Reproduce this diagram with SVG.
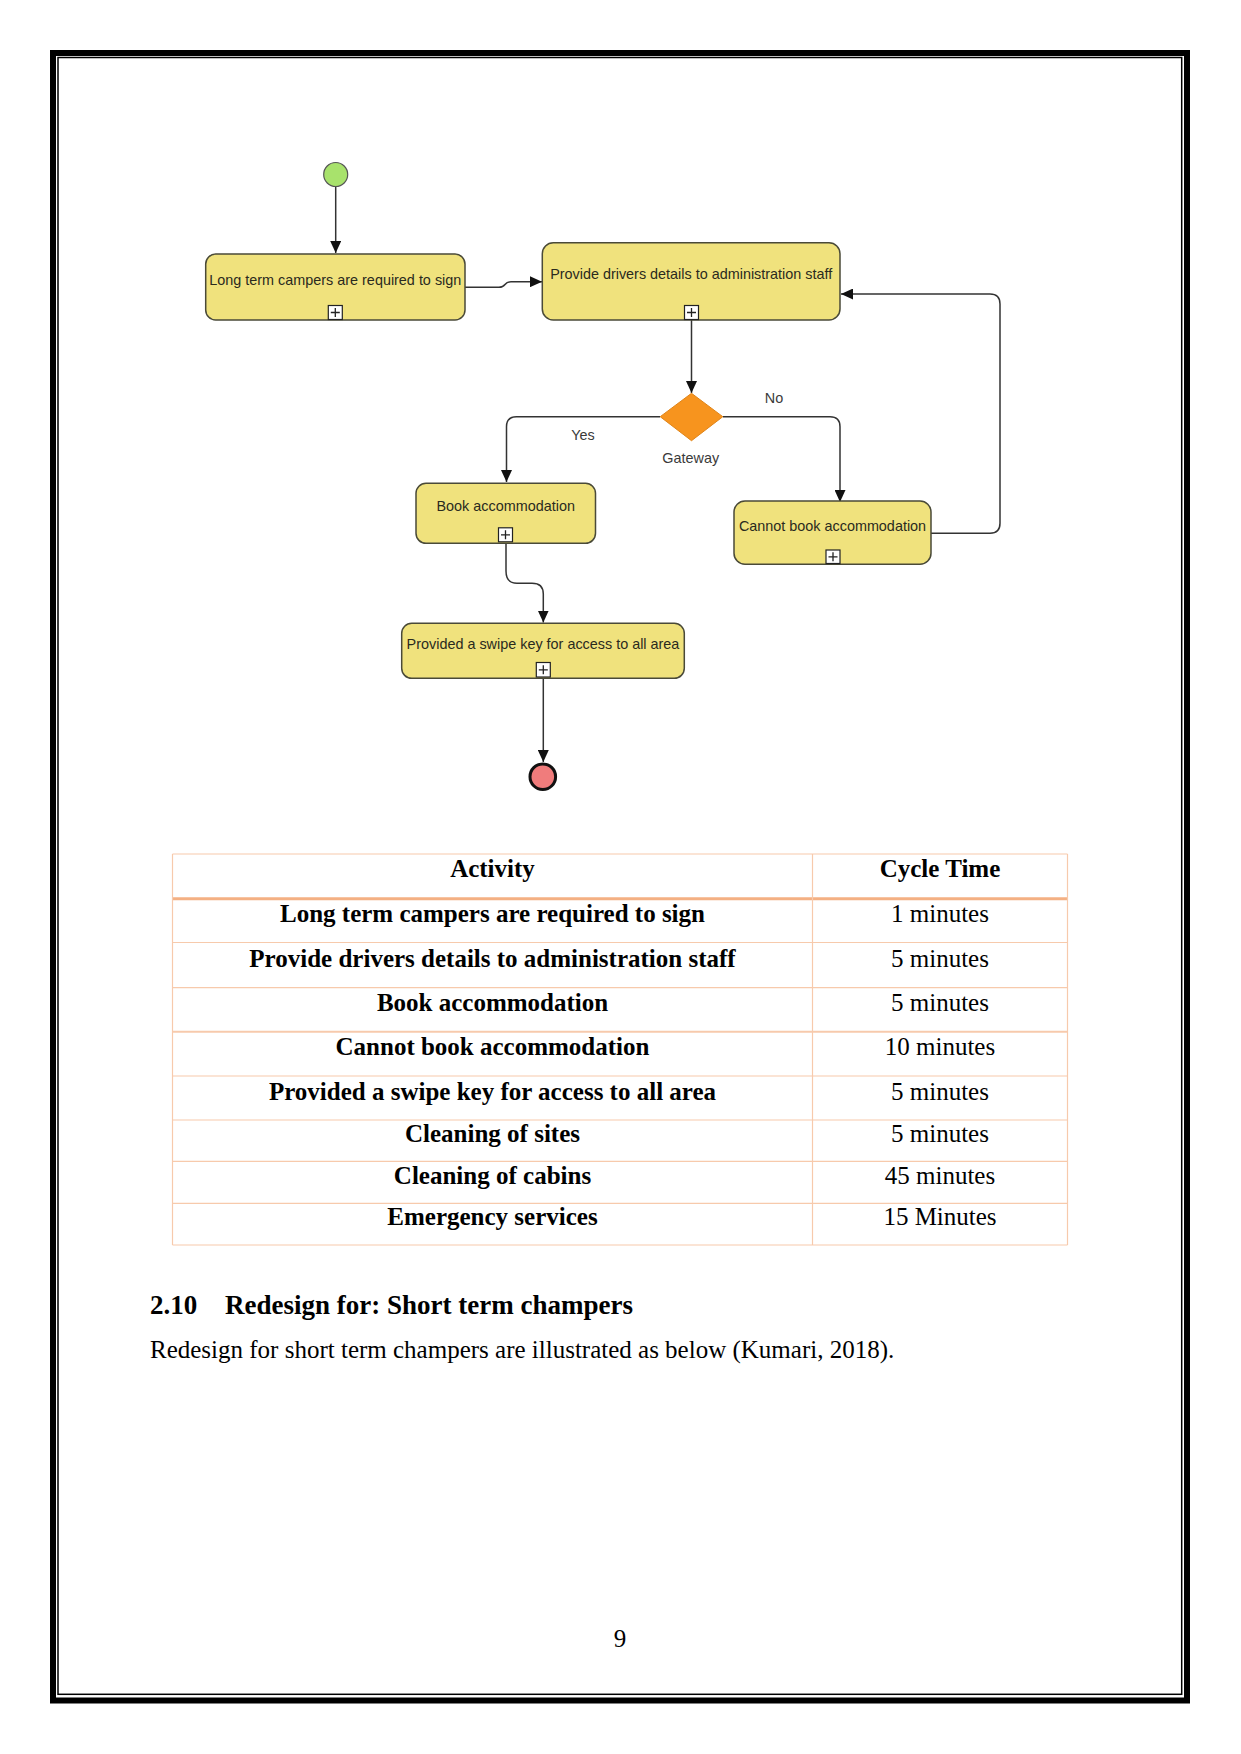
<svg xmlns="http://www.w3.org/2000/svg" width="1241" height="1754" viewBox="0 0 1241 1754">
<defs>
<marker id="arr" markerUnits="userSpaceOnUse" markerWidth="12" markerHeight="11" refX="12" refY="5.5" orient="auto">
<path d="M0,0 L12,5.5 L0,11 z" fill="#111"/>
</marker>
<style>
.task{fill:#F0E27D;stroke:#4a4a38;stroke-width:1.5}
.tl{font-family:"Liberation Sans",Arial,sans-serif;font-size:14.4px;fill:#2a2a1e;text-anchor:middle}
.lbl{font-family:"Liberation Sans",Arial,sans-serif;font-size:14.4px;fill:#3a3a3a;text-anchor:middle}
.plus{fill:#fff;stroke:#222;stroke-width:1.2}
.pl{stroke:#222;stroke-width:1.3}
.con{fill:none;stroke:#333;stroke-width:1.5;marker-end:url(#arr)}
.thin{stroke:#F7CAAC;stroke-width:1.2}
.thick{stroke:#F4B083;stroke-width:3}
.tb{font-family:"Liberation Serif","Times New Roman",serif;font-size:25px;font-weight:bold;fill:#000;text-anchor:middle}
.tr{font-family:"Liberation Serif","Times New Roman",serif;font-size:25px;fill:#000;text-anchor:middle}
</style>
</defs>
<rect width="1241" height="1754" fill="#fff"/>
<!-- page border -->
<rect x="53" y="53" width="1134" height="1647.5" fill="none" stroke="#000" stroke-width="6"/>
<rect x="58" y="57.5" width="1123.7" height="1636.8" fill="none" stroke="#000" stroke-width="1.5"/>

<g id="connectors">
<path class="con" d="M335.7,186.5 V253"/>
<path class="con" d="M465,287.3 H499 Q503,287.3 505,284.5 Q507,281.7 511,281.7 H542"/>
<path class="con" d="M691.5,320 V393"/>
<path class="con" d="M660,416.7 H516.5 Q506.5,416.7 506.5,426.7 V482"/>
<path class="con" d="M723,416.7 H830 Q840,416.7 840,426.7 V502"/>
<path class="con" d="M931,533.3 H990 Q1000,533.3 1000,523.3 V304 Q1000,294 990,294 H841"/>
<path class="con" d="M506,543 V571 Q506,583.3 517,583.3 H532 Q543.3,583.3 543.3,594 V622.5"/>
<path class="con" d="M543.3,678.3 V762"/>
</g>

<g id="start">
<circle cx="335.7" cy="174.5" r="12" fill="#A8E26C" stroke="#555" stroke-width="1.2"/>
</g>

<g id="task1">
<rect class="task" x="205.7" y="254" width="259.3" height="66" rx="10"/>
<text class="tl" x="335.3" y="285">Long term campers are required to sign</text>
<rect class="plus" x="328.3" y="305.5" width="14" height="14"/>
<path class="pl" d="M335.3,308 V317 M330.8,312.5 H339.8"/>
</g>

<g id="task2">
<rect class="task" x="542.3" y="242.7" width="297.7" height="77.3" rx="11"/>
<text class="tl" x="691.2" y="278.5">Provide drivers details to administration staff</text>
<rect class="plus" x="684.5" y="305.5" width="14" height="14"/>
<path class="pl" d="M691.5,308 V317 M687,312.5 H696"/>
</g>

<g id="gateway">
<path d="M691.5,393.3 L722.8,416.7 L691.5,440.7 L660.2,416.7 z" fill="#F7941E" stroke="#E0851A" stroke-width="1"/>
<text class="lbl" x="690.7" y="462.8">Gateway</text>
</g>

<g id="labels">
<text class="lbl" x="583" y="440">Yes</text>
<text class="lbl" x="774" y="402.8">No</text>
</g>

<g id="task3">
<rect class="task" x="416" y="483.3" width="179.5" height="60" rx="10"/>
<text class="tl" x="505.7" y="511">Book accommodation</text>
<rect class="plus" x="498.5" y="527.8" width="14" height="14"/>
<path class="pl" d="M505.5,530.3 V539.3 M501,534.8 H510"/>
</g>

<g id="task4">
<rect class="task" x="734" y="501" width="197" height="63.3" rx="11"/>
<text class="tl" x="832.5" y="530.7">Cannot book accommodation</text>
<rect class="plus" x="826" y="550" width="14" height="13.5"/>
<path class="pl" d="M833,552.3 V561.3 M828.5,556.8 H837.5"/>
</g>

<g id="task5">
<rect class="task" x="401.7" y="623.3" width="282.6" height="55" rx="10"/>
<text class="tl" x="543" y="648.5">Provided a swipe key for access to all area</text>
<rect class="plus" x="536.3" y="662.5" width="14" height="14.5"/>
<path class="pl" d="M543.3,665.3 V674.3 M538.8,669.8 H547.8"/>
</g>

<g id="end">
<circle cx="542.8" cy="776.7" r="12.8" fill="#F07C7C" stroke="#111" stroke-width="3"/>
</g>

<g id="table">
<line class="thin" x1="172.5" y1="854" x2="1067.5" y2="854"/>
<line class="thick" x1="172.5" y1="898.7" x2="1067.5" y2="898.7"/>
<line class="thin" x1="172.5" y1="942.5" x2="1067.5" y2="942.5"/>
<line class="thin" x1="172.5" y1="987.7" x2="1067.5" y2="987.7"/>
<line class="thin" x1="172.5" y1="1031.7" x2="1067.5" y2="1031.7" style="stroke-width:2"/>
<line class="thin" x1="172.5" y1="1076" x2="1067.5" y2="1076"/>
<line class="thin" x1="172.5" y1="1120" x2="1067.5" y2="1120"/>
<line class="thin" x1="172.5" y1="1161.3" x2="1067.5" y2="1161.3"/>
<line class="thin" x1="172.5" y1="1203.3" x2="1067.5" y2="1203.3"/>
<line class="thin" x1="172.5" y1="1245" x2="1067.5" y2="1245"/>
<line class="thin" x1="172.5" y1="854" x2="172.5" y2="1245"/>
<line class="thin" x1="812.5" y1="854" x2="812.5" y2="1245"/>
<line class="thin" x1="1067.5" y1="854" x2="1067.5" y2="1245"/>

<text class="tb" x="492.5" y="876.7">Activity</text>
<text class="tb" x="940" y="876.7">Cycle Time</text>
<text class="tb" x="492.5" y="921.7">Long term campers are required to sign</text>
<text class="tr" x="940" y="921.7">1 minutes</text>
<text class="tb" x="492.5" y="966.7">Provide drivers details to administration staff</text>
<text class="tr" x="940" y="966.7">5 minutes</text>
<text class="tb" x="492.5" y="1011">Book accommodation</text>
<text class="tr" x="940" y="1011">5 minutes</text>
<text class="tb" x="492.5" y="1055">Cannot book accommodation</text>
<text class="tr" x="940" y="1055">10 minutes</text>
<text class="tb" x="492.5" y="1100">Provided a swipe key for access to all area</text>
<text class="tr" x="940" y="1100">5 minutes</text>
<text class="tb" x="492.5" y="1141.7">Cleaning of sites</text>
<text class="tr" x="940" y="1141.7">5 minutes</text>
<text class="tb" x="492.5" y="1184">Cleaning of cabins</text>
<text class="tr" x="940" y="1184">45 minutes</text>
<text class="tb" x="492.5" y="1225">Emergency services</text>
<text class="tr" x="940" y="1225">15 Minutes</text>
</g>

<g id="heading">
<text x="150" y="1314" font-family="'Liberation Serif','Times New Roman',serif" font-size="27" font-weight="bold">2.10</text>
<text x="225" y="1314" font-family="'Liberation Serif','Times New Roman',serif" font-size="27" font-weight="bold">Redesign for: Short term champers</text>
<text x="150" y="1358" font-family="'Liberation Serif','Times New Roman',serif" font-size="25">Redesign for short term champers are illustrated as below (Kumari, 2018).</text>
<text x="620" y="1647" font-family="'Liberation Serif','Times New Roman',serif" font-size="25" text-anchor="middle">9</text>
</g>
</svg>
